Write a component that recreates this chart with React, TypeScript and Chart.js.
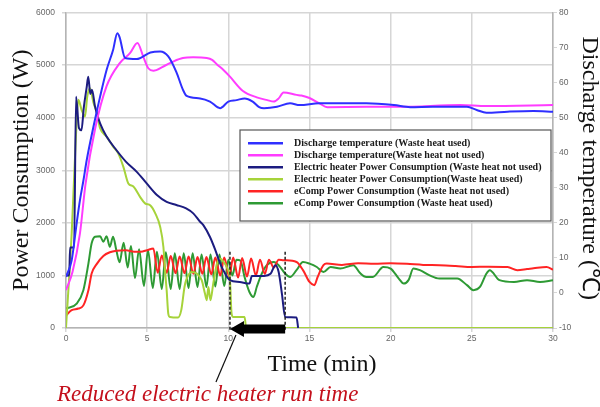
import React, { useEffect, useRef } from 'react';
import { Chart, registerables } from 'chart.js';

Chart.register(...registerables);

// ---- axis ranges / ticks ----
const timeMin = 0;
const timeMax = 30;
const timeStep = 5;
const powerMin = 0;
const powerMax = 6000;
const powerStep = 1000;
const tempMin = -10;
const tempMax = 80;
const tempStep = 10;

// ---- series (time in min) ----
// Discharge temperature (Waste heat used) [°C]
const tempUsedT = [0, 0.35, 0.66, 0.86, 1.07, 1.28, 1.69, 2.1, 2.5, 2.9, 3.16, 3.3, 3.64, 4.35, 5.2, 5.8, 6.3, 6.8, 7.2, 7.43, 8.26, 8.87, 9.49, 10.0, 10.5, 11.0, 11.5, 11.9, 12.2, 13, 13.8, 14.4, 15.6, 16.4, 18.5, 20.2, 21.2, 22.6, 24.7, 25.3, 25.9, 27.2, 28.8, 30];
const tempUsedV = [4.6, 9.3, 20, 26.5, 32, 38, 47.4, 56, 63.6, 69.3, 74.1, 73, 67, 66.7, 68.6, 68.9, 67.5, 63, 58, 56.2, 55.5, 54.6, 52.7, 54.6, 55, 55.5, 54.6, 53, 52.7, 53.1, 54.1, 53.6, 54.1, 54.1, 54.1, 53.6, 53, 53.1, 53.1, 52.2, 51.4, 51.7, 51.9, 51.7];

// Discharge temperature (Waste heat not used) [°C]
const tempNotUsedT = [0, 0.4, 0.86, 1.2, 1.8, 2.5, 3.3, 3.94, 4.4, 4.76, 5.07, 5.38, 6.0, 6.6, 7.2, 7.84, 8.67, 9.0, 9.3, 9.7, 10.1, 10.9, 11.75, 12.4, 12.8, 13.1, 13.4, 14.2, 14.5, 15.0, 15.6, 16.1, 18.5, 20.6, 24.3, 25.9, 30];
const tempNotUsedV = [0.8, 6, 17, 31, 47, 59, 65.5, 68.4, 71.3, 67.4, 64.1, 63.4, 64.6, 66, 67, 67.2, 67, 66.5, 65.2, 63.6, 61.7, 57.6, 55.8, 55, 54.6, 55.5, 57.2, 56.5, 56.3, 55.6, 54.1, 53, 53.1, 53.1, 53.6, 53.3, 53.6];

// Electric heater power (Waste heat not used) [W]
const heaterNotUsedT = [0, 0.2, 0.25, 0.5, 0.62, 0.8, 0.95, 1.1, 1.28, 1.37, 1.5, 1.6, 1.79, 2.1, 2.5, 3.1, 3.7, 4.36, 4.97, 5.6, 6.2, 6.8, 7.4, 7.84, 8.26, 8.46, 8.87, 9.2, 9.5, 9.8, 10.1, 10.7, 11.3, 11.45, 12.2, 12.6, 12.9, 13.1, 13.3, 13.5, 14.2, 14.3];
const heaterNotUsedV = [1000, 1000, 1530, 1530, 4400, 3800, 3760, 4200, 4590, 4780, 4450, 4530, 4210, 3890, 3640, 3385, 3160, 2970, 2750, 2530, 2400, 2340, 2275, 2180, 2020, 1955, 1730, 1480, 1225, 1035, 910, 875, 845, 990, 990, 1030, 1195, 1065, 655, 210, 200, 0];

// Electric heater power (Waste heat used) [W]
const heaterUsedT = [0, 0.35, 0.62, 0.76, 0.96, 1.17, 1.31, 1.48, 1.68, 1.9, 2.1, 2.5, 2.9, 3.2, 3.53, 3.84, 4.15, 4.56, 4.87, 5.2, 5.5, 5.8, 6.0, 6.1, 6.2, 6.3, 6.4, 6.9, 7.1, 7.3, 7.4, 7.75, 8.05, 8.36, 8.56, 8.67, 8.77, 8.9, 9.07, 9.3, 9.5, 9.7, 9.9, 10.1, 10.2, 10.3, 11.0, 11.1, 30];
const heaterUsedV = [0, 1800, 3700, 4340, 4150, 4020, 4400, 4560, 4300, 4085, 3800, 3640, 3450, 3330, 3070, 2750, 2690, 2495, 2370, 2330, 2180, 1925, 1540, 1100, 720, 275, 210, 200, 340, 780, 910, 1065, 1035, 910, 655, 530, 780, 530, 845, 1225, 1320, 1260, 1160, 910, 275, 210, 210, 0, 0];

// eComp power (Waste heat not used) [W]
const ecompNotUsedT = [0, 0.35, 0.76, 1.07, 1.38, 1.58, 1.9, 2.3, 2.7, 3.1, 3.7, 4.2, 4.6, 5.0, 5.38, 5.65, 5.9, 6.2, 6.45, 6.75, 7.0, 7.3, 7.55, 7.85, 8.1, 8.4, 8.65, 8.95, 9.2, 9.5, 9.75, 10.05, 10.3, 10.6, 10.85, 11.15, 11.4, 11.7, 11.95, 12.25, 12.5, 12.8, 13.1, 13.4, 14.2, 14.6, 15.0, 15.3, 15.5, 15.86, 16.06, 17, 18, 19, 20, 21, 22, 23, 24, 25, 26, 27.2, 27.8, 28.4, 28.8, 29.6, 30];
const ecompNotUsedV = [240, 340, 370, 430, 720, 1035, 1220, 1370, 1440, 1470, 1480, 1450, 1450, 1480, 1510, 1050, 1380, 1050, 1370, 1040, 1360, 1040, 1360, 1030, 1350, 1030, 1350, 1020, 1340, 1000, 1340, 980, 1340, 960, 1330, 980, 1320, 1000, 1300, 1030, 1300, 1150, 1300, 1290, 1255, 1100, 875, 815, 970, 1195, 1225, 1200, 1230, 1220, 1230, 1220, 1200, 1195, 1180, 1160, 1165, 1160, 1100, 1120, 1135, 1160, 1110];

// eComp power (Waste heat used) [W]
const ecompUsedT = [0, 0.66, 1.07, 1.38, 1.58, 1.79, 2.1, 2.3, 2.5, 2.7, 2.9, 3.1, 3.3, 3.55, 3.8, 4.0, 4.25, 4.5, 4.8, 5.05, 5.35, 5.6, 5.9, 6.15, 6.45, 6.7, 7.0, 7.25, 7.55, 7.8, 8.1, 8.35, 8.65, 8.9, 9.2, 9.45, 9.75, 10.0, 10.25, 10.5, 10.75, 11.0, 11.3, 11.55, 11.75, 12.06, 12.37, 12.8, 13.1, 13.5, 13.8, 14.2, 14.6, 15.0, 15.45, 15.86, 16.3, 16.9, 17.7, 18.1, 18.5, 18.9, 19.55, 20.0, 20.5, 20.8, 21.1, 21.4, 21.8, 22.4, 23.0, 24.1, 24.7, 25.1, 25.5, 25.9, 26.1, 26.7, 27.6, 28.4, 29.2, 30];
const ecompUsedV = [370, 465, 720, 1225, 1610, 1735, 1745, 1640, 1745, 1545, 1735, 1480, 1250, 1620, 1150, 1560, 950, 1500, 800, 1480, 760, 1450, 740, 1440, 740, 1420, 740, 1420, 760, 1420, 780, 1400, 780, 1400, 790, 1400, 800, 1300, 1000, 1300, 1280, 970, 685, 590, 780, 1035, 1195, 1255, 1195, 1035, 970, 1100, 1255, 1225, 1160, 1065, 1160, 1130, 1195, 1050, 970, 970, 1160, 1130, 940, 845, 910, 1130, 1100, 1000, 940, 940, 815, 720, 780, 1035, 1100, 910, 875, 910, 875, 910];

// ---- labels ----
const seriesLabels = [
  'Discharge temperature (Waste heat used)',
  'Discharge temperature(Waste heat not used)',
  'Electric heater Power Consumption (Waste heat not used)',
  'Electric heater Power Consumption(Waste heat used)',
  'eComp Power Consumption (Waste heat not used)',
  'eComp Power Consumption (Waste heat used)',
];
const seriesColors = ['#2f2fff', '#ff3cff', '#1c1c80', '#a6d33a', '#ff2424', '#2e9a34'];
const xTitle = 'Time (min)';
const yTitle = 'Power Consumption (W)';
const y2Title = 'Discharge temperature (\u2103)';
const noteText = 'Reduced electric heater run time';

// reduced run time window (min) and top of the marker lines (W)
const runWindow = [10.1, 13.5];
const markerTopW = 1450;

const pts = (t: number[], v: number[]) => t.map((x, i) => ({ x, y: v[i] }));

const overlayPlugin = {
  id: 'overlay',
  afterDraw(chart: any) {
    const { ctx, chartArea, scales } = chart;
    const xs = scales.x;
    const ys = scales.y;
    ctx.save();

    // dashed markers
    ctx.strokeStyle = '#222';
    ctx.lineWidth = 1.5;
    ctx.setLineDash([3, 2]);
    for (const t of runWindow) {
      const px = xs.getPixelForValue(t);
      ctx.beginPath();
      ctx.moveTo(px, ys.getPixelForValue(markerTopW));
      ctx.lineTo(px, chartArea.bottom + 3);
      ctx.stroke();
    }
    ctx.setLineDash([]);

    // block arrow pointing left
    const xTip = xs.getPixelForValue(runWindow[0]);
    const xEnd = xs.getPixelForValue(runWindow[1]);
    const cy = chartArea.bottom + 1;
    ctx.fillStyle = '#000';
    ctx.beginPath();
    ctx.moveTo(xTip, cy);
    ctx.lineTo(xTip + 14, cy - 8);
    ctx.lineTo(xTip + 14, cy - 4.5);
    ctx.lineTo(xEnd, cy - 4.5);
    ctx.lineTo(xEnd, cy + 4.5);
    ctx.lineTo(xTip + 14, cy + 4.5);
    ctx.lineTo(xTip + 14, cy + 8);
    ctx.closePath();
    ctx.fill();

    // pointer line
    ctx.strokeStyle = '#111';
    ctx.lineWidth = 1.2;
    ctx.beginPath();
    ctx.moveTo(xTip + 6, cy + 6);
    ctx.lineTo(xTip - 14, 382);
    ctx.stroke();

    // titles
    ctx.fillStyle = '#111';
    ctx.font = '24px "Liberation Serif", "Times New Roman", serif';
    ctx.textAlign = 'center';
    ctx.textBaseline = 'middle';
    ctx.save();
    ctx.translate(22, (chartArea.top + chartArea.bottom) / 2);
    ctx.rotate(-Math.PI / 2);
    ctx.fillText(yTitle, 0, 0);
    ctx.restore();
    ctx.save();
    ctx.translate(589, (chartArea.top + chartArea.bottom) / 2 - 2);
    ctx.rotate(Math.PI / 2);
    ctx.fillText(y2Title, 0, 0);
    ctx.restore();
    ctx.fillText(xTitle, 322, 365);

    // annotation
    ctx.fillStyle = '#c4101c';
    ctx.font = 'italic 23px "Liberation Serif", "Times New Roman", serif';
    ctx.textAlign = 'left';
    ctx.fillText(noteText, 57, 395);

    // legend box
    const bx = 240, by = 130, bw = 311, bh = 91;
    ctx.fillStyle = '#fff';
    ctx.fillRect(bx, by, bw, bh);
    ctx.strokeStyle = '#555';
    ctx.lineWidth = 1.2;
    ctx.strokeRect(bx, by, bw, bh);
    ctx.font = 'bold 10px "Liberation Serif", "Times New Roman", serif';
    ctx.textBaseline = 'middle';
    chart.data.datasets.forEach((ds: any, i: number) => {
      const ly = 143.3 + i * 12;
      ctx.strokeStyle = ds.borderColor;
      ctx.lineWidth = 2.5;
      ctx.beginPath();
      ctx.moveTo(248, ly);
      ctx.lineTo(283, ly);
      ctx.stroke();
      ctx.fillStyle = '#1a1a1a';
      ctx.fillText(ds.label, 294, ly);
    });

    ctx.restore();
  },
};

export default function App() {
  const ref = useRef<HTMLCanvasElement | null>(null);

  useEffect(() => {
    document.body.style.margin = '0';
    if (!ref.current) return;
    const tickFont = { family: '"Liberation Sans", Arial, sans-serif', size: 8.5 };
    const tickColor = '#666';
    const gridColor = '#d6d6d6';
    const axisColor = '#b4b4b4';
    const plain = (v: any) => String(v);
    const series = [
      { t: tempUsedT, v: tempUsedV, axis: 'y2' },
      { t: tempNotUsedT, v: tempNotUsedV, axis: 'y2' },
      { t: heaterNotUsedT, v: heaterNotUsedV, axis: 'y' },
      { t: heaterUsedT, v: heaterUsedV, axis: 'y' },
      { t: ecompNotUsedT, v: ecompNotUsedV, axis: 'y' },
      { t: ecompUsedT, v: ecompUsedV, axis: 'y' },
    ];
    const chart = new Chart(ref.current, {
      type: 'line',
      data: {
        datasets: series.map((s, i) => ({
          label: seriesLabels[i],
          data: pts(s.t, s.v),
          yAxisID: s.axis,
          borderColor: seriesColors[i],
          backgroundColor: seriesColors[i],
          borderWidth: 2,
          pointRadius: 0,
          fill: false,
          cubicInterpolationMode: 'monotone' as const,
        })),
      },
      options: {
        animation: false,
        responsive: false,
        maintainAspectRatio: false,
        layout: { padding: { top: 12.5, left: 0, right: 0, bottom: 0 } },
        plugins: { legend: { display: false }, tooltip: { enabled: false } },
        scales: {
          x: {
            type: 'linear',
            min: timeMin,
            max: timeMax,
            ticks: { stepSize: timeStep, font: tickFont, color: tickColor, padding: 2, maxRotation: 0, callback: plain },
            grid: { color: gridColor, lineWidth: 1.5, tickLength: 4 },
            border: { color: axisColor, width: 1.5 },
            afterFit: (s: any) => { s.height = 79; },
          },
          y: {
            position: 'left',
            min: powerMin,
            max: powerMax,
            ticks: { stepSize: powerStep, font: tickFont, color: tickColor, padding: 7, callback: plain },
            grid: { color: gridColor, lineWidth: 1.5, tickLength: 4 },
            border: { color: axisColor, width: 1.5 },
            afterFit: (s: any) => { s.width = 66; },
          },
          y2: {
            position: 'right',
            min: tempMin,
            max: tempMax,
            ticks: { stepSize: tempStep, font: tickFont, color: tickColor, padding: 2, callback: plain },
            grid: { drawOnChartArea: false, color: gridColor, tickLength: 4 },
            border: { color: axisColor, width: 1.5 },
            afterFit: (s: any) => { s.width = 47; },
          },
        },
      },
      plugins: [overlayPlugin],
    } as any);
    return () => chart.destroy();
  }, []);

  return (
    <div style={{ width: 600, height: 407, position: 'relative', background: '#fff' }}>
      <canvas ref={ref} width={600} height={407} style={{ display: 'block' }} />
    </div>
  );
}
